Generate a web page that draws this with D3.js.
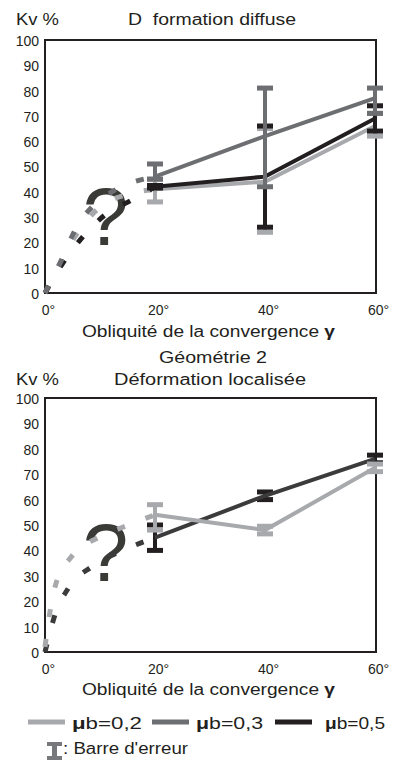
<!DOCTYPE html>
<html>
<head>
<meta charset="utf-8">
<script src="https://cdn.jsdelivr.net/npm/d3@7"></script>
<style>
  html, body { margin: 0; padding: 0; background: #fff; }
  svg text { white-space: pre; }
</style>
</head>
<body>
<div id="chart"></div>
<script>
// Kv % vs obliquity of convergence, two geometries (diffuse / localised).
// Values.
var angles = [20, 40, 60];
var yTicks = [0, 10, 20, 30, 40, 50, 60, 70, 80, 90, 100];
var xTicks = [0, 20, 40, 60];
var legendNames = ['0,2', '0,3', '0,5'];

// Panel 1: "D  formation diffuse"
var topMu02 = [41, 44, 66];
var topMu02Err = [[36, 45], [24, 65], [62, 71]];
var topMu03 = [46, 62, 77];
var topMu03Err = [[45, 51], [42, 81], [71, 81]];
var topMu05 = [42, 46, 69];
var topMu05Err = [[41.5, 42.5], [26, 66], [64, 74]];
// dashed guesses between 0 and 20 degrees
var topMu02Trend = [[0, 0], [3, 13], [6, 24], [10, 34], [15, 39], [20, 41]];
var topMu03Trend = [[0, 0], [3, 13], [5.5, 25], [9, 35], [13, 41], [20, 46]];
var topMu05Trend = [[0, 0], [3.3, 12], [7, 22.5], [11, 31], [16, 37], [20, 42]];

// Panel 2: "Géométrie 2 / Déformation localisée"
var botMu02 = [54, 48, 72.5];
var botMu02Err = [[48, 58], [46.5, 49.5], [71, 74]];
var botMu05 = [45, 61.5, 76];
var botMu05Err = [[40, 50], [60, 63], [74.5, 77.5]];
var botMu02Trend = [[0, 2], [0.8, 14.5], [2, 27], [4.8, 37.5], [9.6, 45], [14, 49], [20, 54]];
var botMu05Trend = [[0, 0], [1.8, 14.5], [4.2, 25], [8.5, 33.6], [13.6, 39.5], [20, 45]];

(function () {
    var W = 393, H = 762;
    var FONT = "'Liberation Sans', Arial, Helvetica, sans-serif";
    var INK = '#231f20';
    var C02 = '#a7a9ac', C03 = '#6d6e71', C05 = '#231f20', CDARK = '#3b3b3b';
    var CQ = '#3a3a36';

    var svg = d3.select('#chart').append('svg')
        .attr('width', W).attr('height', H)
        .attr('viewBox', '0 0 ' + W + ' ' + H);

    // text helper: parts = [[string, bold], ...], stretched to len if given
    function label(x, y, parts, opts) {
        opts = opts || {};
        var t = svg.append('text')
            .attr('x', x).attr('y', y)
            .attr('font-family', FONT)
            .attr('font-size', opts.size || 16)
            .attr('fill', INK)
            .attr('text-anchor', opts.anchor || 'start');
        parts.forEach(function (p) {
            t.append('tspan').attr('font-weight', p[1] ? 'bold' : null).text(p[0]);
        });
        if (opts.len) t.attr('textLength', opts.len).attr('lengthAdjust', 'spacingAndGlyphs');
        return t;
    }

    function drawPanel(p) {
        var x = d3.scaleLinear().domain([0, 60]).range([45, 375]);
        var y = d3.scaleLinear().domain([0, 100]).range([p.bottom, p.top]);
        var g = svg.append('g');

        var yg = g.append('g').attr('transform', 'translate(45,1)')
            .call(d3.axisLeft(y).tickValues(yTicks).tickSize(0).tickPadding(6));
        var xg = g.append('g').attr('transform', 'translate(0,' + p.bottom + ')')
            .call(d3.axisBottom(x).tickValues(xTicks).tickSize(0).tickPadding(12)
                .tickFormat(function (d) { return d + '°'; }));
        [yg, xg].forEach(function (a) {
            a.select('.domain').remove();
            a.attr('font-family', FONT).attr('font-size', 14);
            a.selectAll('text').attr('fill', INK);
        });
        xg.selectAll('text').attr('dx', 3);

        g.append('rect')
            .attr('x', x(0)).attr('y', y(100))
            .attr('width', x(60) - x(0) + 1).attr('height', y(0) - y(100))
            .attr('fill', 'none').attr('stroke', INK).attr('stroke-width', 2);

        // big question mark behind the dashed guesses
        g.append('text')
            .attr('x', x(p.q[0])).attr('y', y(p.q[1]))
            .attr('text-anchor', 'middle')
            .attr('font-family', FONT).attr('font-size', 82)
            .attr('fill', CQ)
            .text('?');

        var line = d3.line()
            .x(function (d) { return x(d[0]); })
            .y(function (d) { return y(d[1]); });
        var trend = d3.line().curve(d3.curveMonotoneX)
            .x(function (d) { return x(d[0]); })
            .y(function (d) { return y(d[1]); });

        p.series.forEach(function (s) {
            g.append('path').datum(s.trend)
                .attr('d', trend)
                .attr('fill', 'none').attr('stroke', s.color)
                .attr('stroke-width', 5).attr('stroke-dasharray', '8,22');

            var bars = g.append('g').selectAll('g')
                .data(angles.map(function (a, i) {
                    return { a: a, lo: s.err[i][0], hi: s.err[i][1] };
                }))
                .join('g');
            bars.append('line')
                .attr('x1', function (d) { return x(d.a); })
                .attr('x2', function (d) { return x(d.a); })
                .attr('y1', function (d) { return y(d.lo); })
                .attr('y2', function (d) { return y(d.hi); })
                .attr('stroke', s.barColor || s.color).attr('stroke-width', 4);
            bars.selectAll('rect')
                .data(function (d) { return [[d.a, d.lo], [d.a, d.hi]]; })
                .join('rect')
                .attr('x', function (d) { return x(d[0]) - 8; })
                .attr('y', function (d) { return y(d[1]) - 2.5; })
                .attr('width', 16).attr('height', 5)
                .attr('fill', s.barColor || s.color);

            g.append('path')
                .datum(angles.map(function (a, i) { return [a, s.values[i]]; }))
                .attr('d', line)
                .attr('fill', 'none').attr('stroke', s.color)
                .attr('stroke-width', 4);
        });
    }

    // ---- panel 1 ----
    label(16, 25, [['Kv %']], { len: 43 });
    label(128, 25, [['D  formation diffuse']], { len: 168 });
    drawPanel({
        top: 40, bottom: 293, q: [11, 19],
        series: [
            { color: C02, values: topMu02, err: topMu02Err, trend: topMu02Trend },
            { color: C05, values: topMu05, err: topMu05Err, trend: topMu05Trend },
            { color: C03, values: topMu03, err: topMu03Err, trend: topMu03Trend }
        ]
    });
    label(82, 337, [['Obliquité de la convergence '], ['γ', true]], { len: 253 });

    // ---- panel 2 ----
    label(159, 363, [['Géométrie 2']], { len: 108 });
    label(16, 385, [['Kv %']], { len: 43 });
    label(114, 385, [['Déformation localisée']], { len: 192 });
    drawPanel({
        top: 398, bottom: 652, q: [11, 28],
        series: [
            { color: CDARK, barColor: C05, values: botMu05, err: botMu05Err, trend: botMu05Trend },
            { color: C02, values: botMu02, err: botMu02Err, trend: botMu02Trend }
        ]
    });
    label(82, 695, [['Obliquité de la convergence '], ['γ', true]], { len: 253 });

    // ---- legend ----
    var legColors = [C02, C03, C05];
    var legX = [28, 152, 275];
    var legLen = [70, 67, 60];
    legendNames.forEach(function (n, i) {
        svg.append('line')
            .attr('x1', legX[i]).attr('x2', legX[i] + 37)
            .attr('y1', 722).attr('y2', 722)
            .attr('stroke', legColors[i]).attr('stroke-width', 5);
        label(legX[i] + (i === 2 ? 50 : 44), 729, [['μ', true], ['b=' + n]], { len: legLen[i] });
    });

    // error bar glyph
    var eb = svg.append('g').attr('fill', '#77787b');
    eb.append('rect').attr('x', 47).attr('y', 742).attr('width', 15).attr('height', 4);
    eb.append('rect').attr('x', 52).attr('y', 742).attr('width', 5).attr('height', 18);
    eb.append('rect').attr('x', 47).attr('y', 756).attr('width', 15).attr('height', 4);
    label(63, 754, [[": Barre d'erreur"]], { len: 125 });
})();
</script>
</body>
</html>
